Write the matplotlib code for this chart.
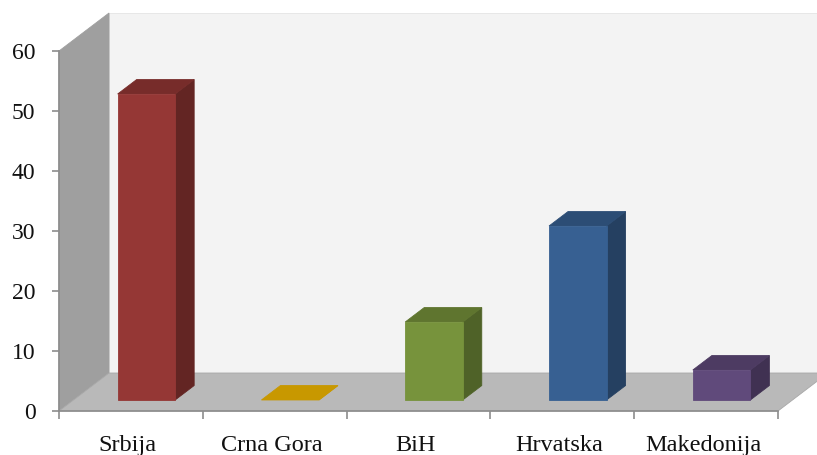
import numpy as np
import matplotlib
matplotlib.use('Agg')
import matplotlib.pyplot as plt
from matplotlib.patches import Polygon
from matplotlib.transforms import ScaledTranslation

countries = ['Srbija', 'Crna Gora', 'BiH', 'Hrvatska', 'Makedonija']
values = [51, 0, 13, 29, 5]
front_colors = ['#953735', '#c89800', '#77933c', '#376092', '#604a7b']
top_colors = ['#772c2a', '#c89800', '#5f752f', '#2c4d75', '#4d3b62']
side_colors = ['#632523', '#c89800', '#4f6228', '#254061', '#403152']

W, H = 817, 455
fig = plt.figure(figsize=(W / 100, H / 100), dpi=100)
plt.rcParams['font.family'] = ['Liberation Serif', 'DejaVu Serif']
# axes = the front plane of the 3d box
ax = fig.add_axes([59 / W, (H - 411) / H, 719 / W, 360 / H])
ax.set_xlim(0, 5)
ax.set_ylim(0, 60)
ax.patch.set_visible(False)

# depth vector of the box, in data units
dx = 50 / (719 / 5)
dy = 38 / 6


def pt(x, y, d=0.0):
    return (x + d * dx, y + d * dy)


def face(points, color, z, edge=None):
    ax.add_patch(Polygon(points, closed=True, facecolor=color, edgecolor=edge or color,
                         linewidth=0.6, clip_on=False, zorder=z))


# walls and floor
face([pt(0, 0, 1), pt(5, 0, 1), pt(5, 60, 1), pt(0, 60, 1)], '#f3f3f3', 1, '#e4e4e4')
face([pt(0, 0), pt(0, 0, 1), pt(0, 60, 1), pt(0, 60)], '#9f9f9f', 2)
face([pt(0, 0), pt(5, 0), pt(5, 0, 1), pt(0, 0, 1)], '#b9b9b9', 2, '#a8a8a8')

# bars
bar_w = 0.40
d0, d1 = 0.29, 0.67
for i, v in enumerate(values):
    x0 = i + 0.507 - bar_w / 2
    x1 = x0 + bar_w
    z = 5 + (5 - i) * 0.01
    face([pt(x1, 0, d0), pt(x1, 0, d1), pt(x1, v, d1), pt(x1, v, d0)], side_colors[i], z)
    face([pt(x0, v, d0), pt(x1, v, d0), pt(x1, v, d1), pt(x0, v, d1)], top_colors[i], z)
    if v > 0:
        face([pt(x0, 0, d0), pt(x1, 0, d0), pt(x1, v, d0), pt(x0, v, d0)], front_colors[i], z)

for s in ['top', 'right']:
    ax.spines[s].set_visible(False)
for s in ['left', 'bottom']:
    ax.spines[s].set_color('#8c8c8c')
    ax.spines[s].set_linewidth(1.2)
    ax.spines[s].set_zorder(4)

ax.set_yticks(np.arange(0, 70, 10))
ax.set_xticks(np.arange(0, 6))
ax.set_xticklabels([])
ax.set_xticks(np.arange(5) + 0.5, countries, minor=True)
ax.tick_params(axis='y', length=5, width=1.2, color='#8c8c8c', labelsize=17, pad=12, labelcolor='#111111')
ax.tick_params(axis='x', which='major', length=6, width=1.2, color='#8c8c8c')
ax.tick_params(axis='x', which='minor', length=0, labelsize=17.5, pad=17, labelcolor='#111111')
for lab in ax.get_xticklabels(minor=True):
    lab.set_transform(lab.get_transform() + ScaledTranslation(-3 / 100, 0, fig.dpi_scale_trans))

fig.savefig('out.png', dpi=100, facecolor='white')
